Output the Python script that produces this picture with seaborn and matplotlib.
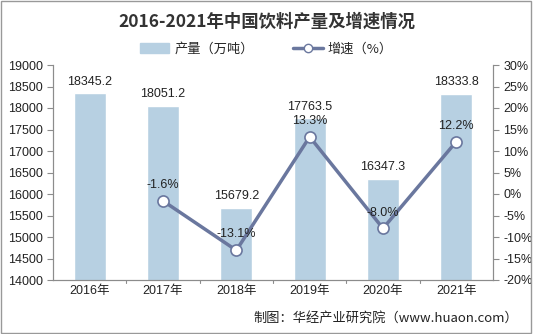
import matplotlib
matplotlib.use("Agg")
import matplotlib.pyplot as plt
import seaborn as sns
import pandas as pd
from matplotlib.patches import Rectangle
from matplotlib.lines import Line2D
from matplotlib.ticker import FuncFormatter

years = ["2016年", "2017年", "2018年", "2019年", "2020年", "2021年"]
output = [18345.2, 18051.2, 15679.2, 17763.5, 16347.3, 18333.8]
growth = [None, -1.6, -13.1, 13.3, -8.0, 12.2]
left_ticks = list(range(14000, 19001, 500))
right_ticks = list(range(-20, 31, 5))

sns.set_theme(style="white")
plt.rcParams['font.family'] = ['Liberation Sans', 'Noto Sans CJK SC', 'DejaVu Sans']

bar_color = "#b7d0e2"
line_color = "#6a779e"
axis_color = "#8c8c8c"
num_font = ["Liberation Sans", "DejaVu Sans"]

fig = plt.figure(figsize=(5.33, 3.34), dpi=100)
ax = fig.add_axes([53/533, 1-280/334, 440/533, 215/334])

df = pd.DataFrame({"year": years, "output": output, "growth": growth})
sns.barplot(data=df, x="year", y="output", color=bar_color, width=0.44,
            saturation=1, ax=ax, bottom=0)
ax.set_ylim(14000, 19000)
ax.set_yticks(left_ticks)
ax.set_xlim(-0.5, 5.5)
ax.set_xlabel("")
ax.set_ylabel("")
for i, v in enumerate(output):
    ax.text(i, v + 130, f"{v:.1f}", ha="center", va="bottom", fontsize=9,
            family=num_font, color="#222222")

ax2 = ax.twinx()
gdf = df.dropna(subset=["growth"]).copy()
gdf["pos"] = [years.index(y) for y in gdf["year"]]
sns.lineplot(data=gdf, x="pos", y="growth", ax=ax2, color=line_color,
             linewidth=2.5, marker="o", markersize=8, markerfacecolor="white",
             markeredgecolor=line_color, markeredgewidth=1.2, zorder=5)
ax2.set_ylim(-20, 30)
ax2.set_yticks(right_ticks)
ax2.yaxis.set_major_formatter(FuncFormatter(lambda v, p: f"{int(v)}%"))
ax2.set_xlim(-0.5, 5.5)
ax2.set_xlabel("")
ax2.set_ylabel("")
for _, r in gdf.iterrows():
    ax2.text(r["pos"], r["growth"] + 2.3, f"{r['growth']:.1f}%", ha="center",
             va="bottom", fontsize=9, family=num_font, color="#222222", zorder=6)

for a in (ax, ax2):
    for s in a.spines.values():
        s.set_color(axis_color)
        s.set_linewidth(0.8)
    a.spines["top"].set_visible(False)
    a.tick_params(axis="y", length=4, width=0.8, color=axis_color,
                  labelsize=9, labelcolor="#222222", direction="out")
    a.tick_params(axis="x", length=0, labelsize=9, labelcolor="#222222")
    a.grid(False)
ax.tick_params(axis="y", which="both", left=True)
ax2.tick_params(axis="y", right=True)
ax.set_xticks(range(6))
ax.set_xticklabels(years)
for x in [0.5, 1.5, 2.5, 3.5, 4.5]:
    ax.plot([x, x], [14000, 14000 - 60], color=axis_color, lw=0.8, clip_on=False)

fig.text(0.5, 1-22/334, "2016-2021年中国饮料产量及增速情况", ha="center",
         va="center", fontsize=12.5, fontweight="bold", color="#333333",
         family=["Noto Sans CJK SC", "DejaVu Sans"])
handles = [Rectangle((0, 0), 1, 1, color=bar_color),
           Line2D([0], [0], color=line_color, lw=2.5, marker="o", markersize=6,
                  markerfacecolor="white", markeredgecolor=line_color)]
fig.legend(handles, ["产量（万吨）", "增速（%）"], loc="center",
           bbox_to_anchor=(0.5, 1-49/334), ncol=2, frameon=False,
           prop={"family": ["Noto Sans CJK SC", "DejaVu Sans"], "size": 9.5},
           handlelength=2.2, columnspacing=3.0, handletextpad=0.4)

fig.text(518/533, 1-318/334, "制图：华经产业研究院（www.huaon.com）", ha="right",
         va="center", fontsize=9.5, color="#222222",
         family=["Noto Sans CJK SC", "DejaVu Sans"])

fig.add_artist(Rectangle((0.002, 0.003), 0.995, 0.994, transform=fig.transFigure,
                         fill=False, edgecolor="#999999", lw=1))

fig.savefig("out.png", dpi=100)
